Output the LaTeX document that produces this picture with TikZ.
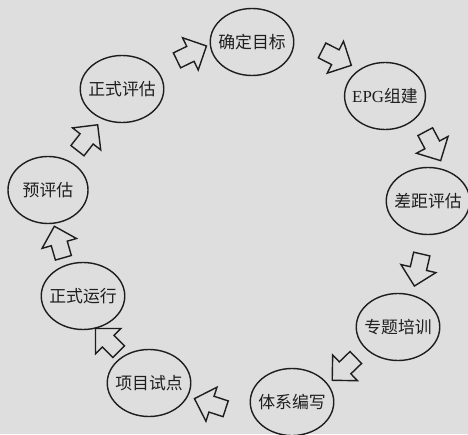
\documentclass[tikz,border=0pt]{standalone}
\usepackage{fontspec}
\setmainfont{Liberation Serif}
\newfontfamily\cjk{Noto Sans CJK SC}
\usepackage{tikz}
\usetikzlibrary{shapes.geometric, shapes.arrows}
\definecolor{paper}{RGB}{222,222,222}
\definecolor{ink}{RGB}{30,30,30}

\begin{document}
\begin{tikzpicture}[
    line width=1pt,
    stage/.style={draw=ink, ellipse, minimum width=2cm, minimum height=1.675cm, inner xsep=-3pt, inner ysep=2pt, align=center, text=ink, font=\fontsize{12}{13}\selectfont\cjk},
    hollow/.style={draw=ink, single arrow, inner xsep=0pt, inner ysep=0.19cm, minimum height=0.82cm, single arrow head extend=0.24cm, line join=miter}
]
    % Paper and margins
    \fill[paper] (0,0) rectangle (11.7,10.85);
    \useasboundingbox (0,0) rectangle (11.7,10.85);

    % Steps of the cycle
    \node[stage] (qd) at (6.30, 9.80) {确定目标};
    \node[stage] (epg) at (9.625, 8.45) {{\rmfamily EPG}组建};
    \node[stage] (cj) at (10.70, 5.825) {差距评估};
    \node[stage] (zt) at (9.95, 2.675) {专题培训};
    \node[stage] (tx) at (7.30, 0.80) {体系编写};
    \node[stage] (xm) at (3.725, 1.275) {项目试点};
    \node[stage] (yx) at (2.075, 3.45) {正式运行};
    \node[stage] (ypg) at (1.20, 6.10) {预评估};
    \node[stage] (zs) at (3.05, 8.625) {正式评估};

    % Hollow arrows between the steps
    \node[hollow, rotate=26] (a1) at (4.70, 9.475) {};
    \node[hollow, rotate=-27] (a2) at (8.325, 9.45) {};
    \node[hollow, rotate=-62] (a3) at (10.775, 7.2875) {};
    \node[hollow, rotate=-103] (a4) at (10.475, 4.20) {};
    \node[hollow, rotate=-136] (a5) at (8.675, 1.70) {};
    \node[hollow, rotate=162] (a6) at (5.35, 0.725) {};
    \node[hollow, rotate=135] (a7) at (2.75, 2.275) {};
    \node[hollow, rotate=106] (a8) at (1.50, 4.70) {};
    \node[hollow, rotate=52] (a9) at (2.125, 7.325) {};

\end{tikzpicture}
\end{document}
